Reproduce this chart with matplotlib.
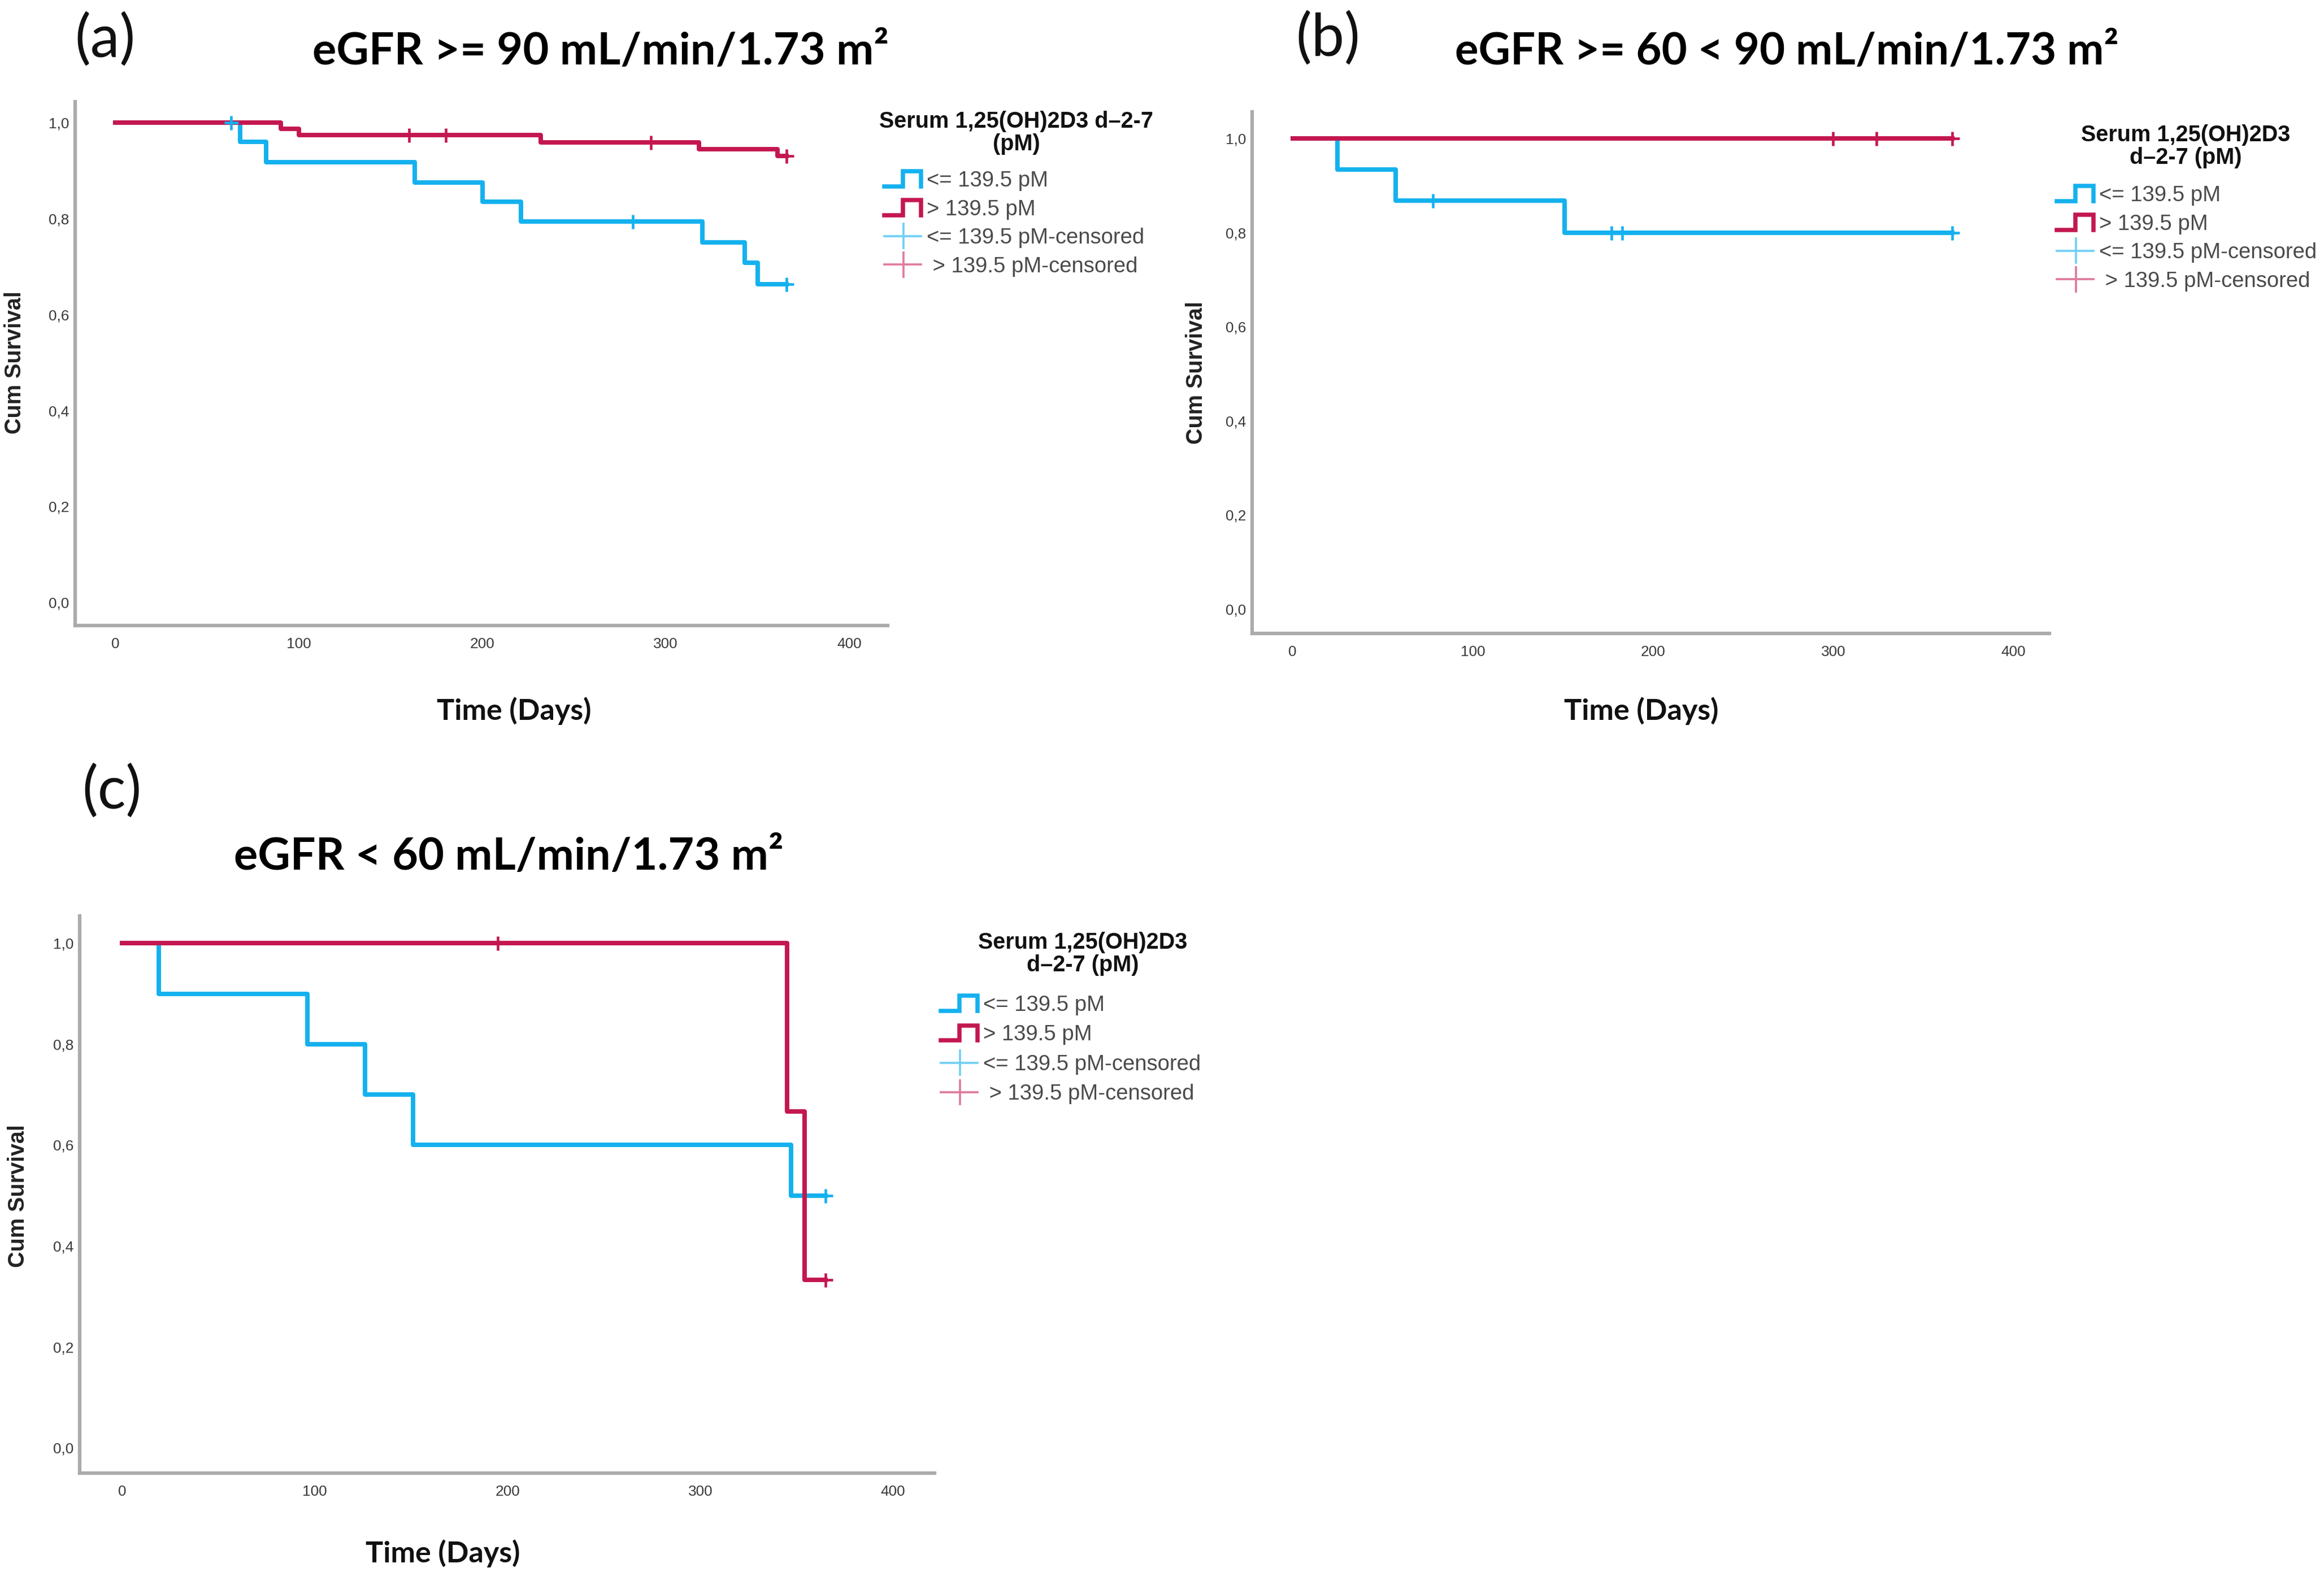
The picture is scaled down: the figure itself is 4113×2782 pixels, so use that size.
import matplotlib
matplotlib.use("Agg")
import matplotlib.pyplot as plt
import numpy as np
from matplotlib.lines import Line2D
from matplotlib.legend_handler import HandlerBase
from matplotlib.ticker import FuncFormatter

# ── Data ─────────────────────────────────────────────────────────────────────
# panel (a): eGFR >= 90
A_LOW_T = [0, 68, 82, 163, 200, 221, 320, 343, 350, 366]
A_LOW_S = [1.0, 0.960, 0.918, 0.876, 0.835, 0.794, 0.751, 0.708, 0.664, 0.664]
A_LOW_CENS = [63, 282, 366]
A_HIGH_T = [0, 90, 100, 232, 318, 361, 366]
A_HIGH_S = [1.0, 0.987, 0.974, 0.959, 0.945, 0.931, 0.931]
A_HIGH_CENS = [160, 180, 292, 366]

# panel (b): eGFR >= 60 < 90
B_LOW_T = [0, 25, 57, 151, 366]
B_LOW_S = [1.0, 0.935, 0.868, 0.800, 0.800]
B_LOW_CENS = [78, 177, 183, 366]
B_HIGH_T = [0, 366]
B_HIGH_S = [1.0, 1.0]
B_HIGH_CENS = [300, 324, 366]

# panel (c): eGFR < 60
C_LOW_T = [0, 19, 96, 126, 151, 347, 365]
C_LOW_S = [1.0, 0.9, 0.8, 0.7, 0.6, 0.5, 0.5]
C_LOW_CENS = [365]
C_HIGH_T = [0, 345, 354, 365]
C_HIGH_S = [1.0, 0.667, 0.333, 0.333]
C_HIGH_CENS = [195, 365]

X_TICKS = [0, 100, 200, 300, 400]
Y_TICKS = [0.0, 0.2, 0.4, 0.6, 0.8, 1.0]
LEG_LABELS = ["<= 139.5 pM", "> 139.5 pM", "<= 139.5 pM-censored", " > 139.5 pM-censored"]

# ── Style ────────────────────────────────────────────────────────────────────
W, H, DPI = 4113, 2782, 300
BLUE = "#14B1EE"
RED = "#C4174F"
BLUE_LIGHT = "#72D0F5"
RED_LIGHT = "#E07C9E"
SPINE = "#ABABAB"
ARIAL = "Liberation Sans"
CAL = "Lato"


def px_rect(left, top, right, bottom):
    return [left / W, 1 - bottom / H, (right - left) / W, (bottom - top) / H]


class StepIcon(HandlerBase):
    def create_artists(self, legend, orig, xd, yd, w, h, fs, trans):
        x0, y0 = -xd, -yd
        xs = [x0, x0 + 0.5 * w, x0 + 0.5 * w, x0 + w, x0 + w]
        ys = [y0, y0, y0 + h, y0 + h, y0]
        return [Line2D(xs, ys, color=orig.get_color(), lw=orig.get_linewidth(),
                       solid_joinstyle="miter", transform=trans)]


class CensorIcon(HandlerBase):
    def create_artists(self, legend, orig, xd, yd, w, h, fs, trans):
        x0, y0 = -xd, -yd
        hl = Line2D([x0, x0 + w], [y0 + h / 2, y0 + h / 2], color=orig.get_color(),
                    lw=orig.get_linewidth(), transform=trans)
        vl = Line2D([x0 + 0.52 * w, x0 + 0.52 * w], [y0 - 0.3 * h, y0 + 1.3 * h],
                    color=orig.get_color(), lw=orig.get_linewidth(), transform=trans)
        return [hl, vl]


def surv_at(times, surv, t):
    i = np.searchsorted(times, t, side="right") - 1
    return surv[i]


def draw_panel(ax, low, high, xlim, ylim):
    for (t, s, cens), col in ((low, BLUE), (high, RED)):
        ax.step(t, s, where="post", color=col, lw=1.9, zorder=3)
        cy = [surv_at(t, s, c) for c in cens]
        ax.plot(cens, cy, ls="none", marker="+", ms=6, mew=1.1, color=col, zorder=4)
    ax.set_xlim(*xlim)
    ax.set_ylim(*ylim)
    ax.set_xticks(X_TICKS)
    ax.set_yticks(Y_TICKS)
    ax.yaxis.set_major_formatter(FuncFormatter(lambda v, p: f"{v:.1f}".replace(".", ",")))
    ax.tick_params(length=0, labelsize=6.3, labelcolor="#3a3a3a")
    ax.tick_params(axis="x", pad=5)
    ax.tick_params(axis="y", pad=2.5)
    for lab in ax.get_xticklabels() + ax.get_yticklabels():
        lab.set_family(ARIAL)
    for side in ("top", "right"):
        ax.spines[side].set_visible(False)
    for side in ("left", "bottom"):
        ax.spines[side].set_color(SPINE)
        ax.spines[side].set_linewidth(1.5)


def add_legend(fig, title, title_cx, title_cy, hx, top, spacing=0.38):
    fig.text(title_cx / W, 1 - title_cy / H, title, ha="center", va="center",
             multialignment="center", linespacing=1.08, family=ARIAL,
             weight="bold", size=9.5, color="#111111")
    handles = [Line2D([], [], color=BLUE, lw=1.8), Line2D([], [], color=RED, lw=1.8),
               Line2D([], [], color=BLUE_LIGHT, lw=0.9), Line2D([], [], color=RED_LIGHT, lw=0.9)]
    hmap = {handles[0]: StepIcon(), handles[1]: StepIcon(),
            handles[2]: CensorIcon(), handles[3]: CensorIcon()}
    return fig.legend(handles, LEG_LABELS, loc="upper left", bbox_to_anchor=(hx / W, 1 - top / H),
                      frameon=False, prop={"family": ARIAL, "size": 9.2}, labelcolor="#4a4a4a",
                      handlelength=1.7, handleheight=0.7, handletextpad=0.25,
                      labelspacing=spacing, borderpad=0, borderaxespad=0, handler_map=hmap)


def fit_text(fig, txt, target_px):
    r = fig.canvas.get_renderer()
    w = txt.get_window_extent(renderer=r).width
    txt.set_fontsize(txt.get_fontsize() * target_px / w)


fig = plt.figure(figsize=(W / DPI, H / DPI), dpi=DPI)
fig.patch.set_facecolor("white")

ax_a = fig.add_axes(px_rect(133, 180, 1571, 1107))
ax_b = fig.add_axes(px_rect(2216, 198, 3627, 1121))
ax_c = fig.add_axes(px_rect(141, 1621, 1654, 2607))

draw_panel(ax_a, (A_LOW_T, A_LOW_S, A_LOW_CENS), (A_HIGH_T, A_HIGH_S, A_HIGH_CENS),
           (-22, 421), (-0.048, 1.044))
draw_panel(ax_b, (B_LOW_T, B_LOW_S, B_LOW_CENS), (B_HIGH_T, B_HIGH_S, B_HIGH_CENS),
           (-22.5, 420), (-0.052, 1.057))
draw_panel(ax_c, (C_LOW_T, C_LOW_S, C_LOW_CENS), (C_HIGH_T, C_HIGH_S, C_HIGH_CENS),
           (-22, 421.5), (-0.050, 1.054))

# legends
add_legend(fig, "Serum 1,25(OH)2D3 d–2-7\n(pM)", 1799, 235, 1565, 302)
add_legend(fig, "Serum 1,25(OH)2D3\nd–2-7 (pM)", 3868, 259, 3640, 328)
add_legend(fig, "Serum 1,25(OH)2D3\nd–2-7 (pM)", 1916, 1688, 1665, 1761, spacing=0.43)

# axis labels
for x, y in ((26, 642), (2117, 660), (32, 2117)):
    fig.text(x / W, 1 - y / H, "Cum Survival", rotation=90, ha="center", va="center",
             family=ARIAL, weight="bold", size=9.5, color="#222222")
for x, y in ((910, 1258), (2905, 1258), (784, 2749)):
    fig.text(x / W, 1 - y / H, "Time (Days)", ha="center", va="center",
             family=CAL, weight="bold", size=12.5, color="#111111")

# panel letters and titles
for x, y, s in ((186, 70, "(a)"), (2350, 68, "(b)"), (198, 1400, "(c)")):
    fig.text(x / W, 1 - y / H, s, ha="center", va="center", family=CAL, size=25, color="#111111")

titles = [(1063, 92, "eGFR >= 90 mL/min/1.73 m²", 1021),
          (3162, 92, "eGFR >= 60 < 90 mL/min/1.73 m²", 1175),
          (900, 1517, "eGFR < 60 mL/min/1.73 m²", 973)]
for x, y, s, wpx in titles:
    t = fig.text(x / W, 1 - y / H, s, ha="center", va="center", family=CAL,
                 weight="bold", size=20, color="black")
    fit_text(fig, t, wpx)

fig.savefig("out.png", dpi=DPI, facecolor="white")
